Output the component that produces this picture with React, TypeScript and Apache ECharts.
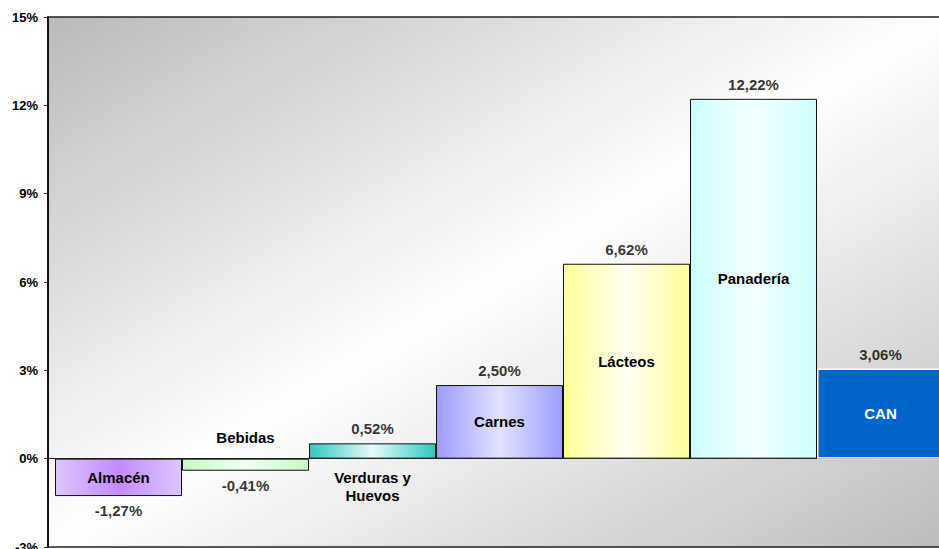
import React, { useEffect, useRef } from "react";
import * as echarts from "echarts";

const categories = ["Almacén", "Bebidas", "Verduras y Huevos", "Carnes", "Lácteos", "Panadería", "CAN"];
const values = [-1.27, -0.41, 0.52, 2.5, 6.62, 12.22, 3.06];
const yTicks = { min: -3, max: 15, interval: 3 };

const edgeColors = ["#dcc6ff", "#c8f8c8", "#33c6c0", "#9c9cff", "#ffff99", "#ccffff", "#0066cc"];
const centerColors = ["#c28cff", "#f2fff2", "#e8fbf9", "#e2e2ff", "#fffff2", "#f4ffff", "#0066cc"];

const FONT = "'Liberation Sans', Arial, sans-serif";

function fmt(v: number) {
  return v.toFixed(2).replace(".", ",") + "%";
}

export default function App() {
  const ref = useRef<HTMLDivElement>(null);
  useEffect(() => {
    if (!ref.current) return;
    const chart = echarts.init(ref.current, null, { renderer: "svg" });
    const barData = values.map((v, i) => {
      const isCan = categories[i] === "CAN";
      const item: any = {
        value: v,
        name: categories[i],
        itemStyle: {
          color: new echarts.graphic.LinearGradient(0, 0, 1, 0, [
            { offset: 0, color: edgeColors[i] },
            { offset: 0.5, color: centerColors[i] },
            { offset: 1, color: edgeColors[i] },
          ]),
          borderColor: isCan ? "#ffffff" : "#111111",
          borderWidth: isCan ? 1.5 : 1,
        },
        label: { color: isCan ? "#ffffff" : "#000000" },
      };
      if (categories[i] === "Bebidas") item.label.offset = [0, -27];
      if (categories[i] === "Verduras y Huevos") item.label.offset = [0, 35];
      return item;
    });
    const valueLabelData = values.map((v, i) => ({
      value: v,
      name: categories[i],
      label: { position: v >= 0 ? "top" : "bottom" },
    }));
    chart.setOption({
      animation: false,
      grid: [
        {
          left: 48,
          right: 0,
          top: 17,
          bottom: 2,
          outerBoundsMode: "none",
          containLabel: false,
          show: true,
          borderColor: "#222",
          borderWidth: 1.5,
          backgroundColor: new echarts.graphic.LinearGradient(0, 0, 1, 1, [
            { offset: 0, color: "#bababa" },
            { offset: 0.5, color: "#ffffff" },
            { offset: 1, color: "#bcbcbc" },
          ]),
        },
        { left: 55, right: 0, top: 17, bottom: 2, outerBoundsMode: "none", containLabel: false },
      ],
      xAxis: [
        {
          gridIndex: 0,
          type: "value",
          min: 0,
          max: 1,
          axisLine: { show: true, onZero: true, lineStyle: { color: "#222", width: 1.2 } },
          axisTick: { show: false },
          axisLabel: { show: false },
          splitLine: { show: false },
        },
        {
          gridIndex: 1,
          type: "category",
          data: categories,
          show: false,
          boundaryGap: true,
        },
      ],
      yAxis: [
        {
          gridIndex: 0,
          type: "value",
          min: yTicks.min,
          max: yTicks.max,
          interval: yTicks.interval,
          axisLine: { show: true, onZero: false, lineStyle: { color: "#111", width: 2 } },
          axisTick: { show: true, length: 4, lineStyle: { color: "#333" } },
          axisLabel: {
            formatter: "{value}%",
            color: "#000",
            fontWeight: "bold",
            fontSize: 13,
            fontFamily: FONT,
            margin: 10,
          },
          splitLine: { show: false },
        },
        {
          gridIndex: 1,
          type: "value",
          min: yTicks.min,
          max: yTicks.max,
          interval: yTicks.interval,
          show: false,
          splitLine: { show: false },
        },
      ],
      series: [
        {
          type: "bar",
          xAxisIndex: 1,
          yAxisIndex: 1,
          barCategoryGap: "0%",
          data: barData,
          label: {
            show: true,
            position: "inside",
            formatter: (p: any) => (p.name === "Verduras y Huevos" ? "Verduras y\nHuevos" : p.name),
            fontWeight: "bold",
            fontSize: 15,
            fontFamily: FONT,
            lineHeight: 18,
          },
        },
        {
          type: "scatter",
          xAxisIndex: 1,
          yAxisIndex: 1,
          symbolSize: 0,
          data: valueLabelData,
          label: {
            show: true,
            distance: 7,
            formatter: (p: any) => fmt(p.value),
            color: "#000",
            fontWeight: "bold",
            fontSize: 15,
            fontFamily: FONT,
          },
          silent: true,
          z: 5,
        },
      ],
    });
    return () => chart.dispose();
  }, []);
  return (
    <div style={{ position: "absolute", left: 0, top: 0, width: 939, height: 549, overflow: "hidden" }}>
      <div ref={ref} style={{ width: 944, height: 549 }} />
    </div>
  );
}
